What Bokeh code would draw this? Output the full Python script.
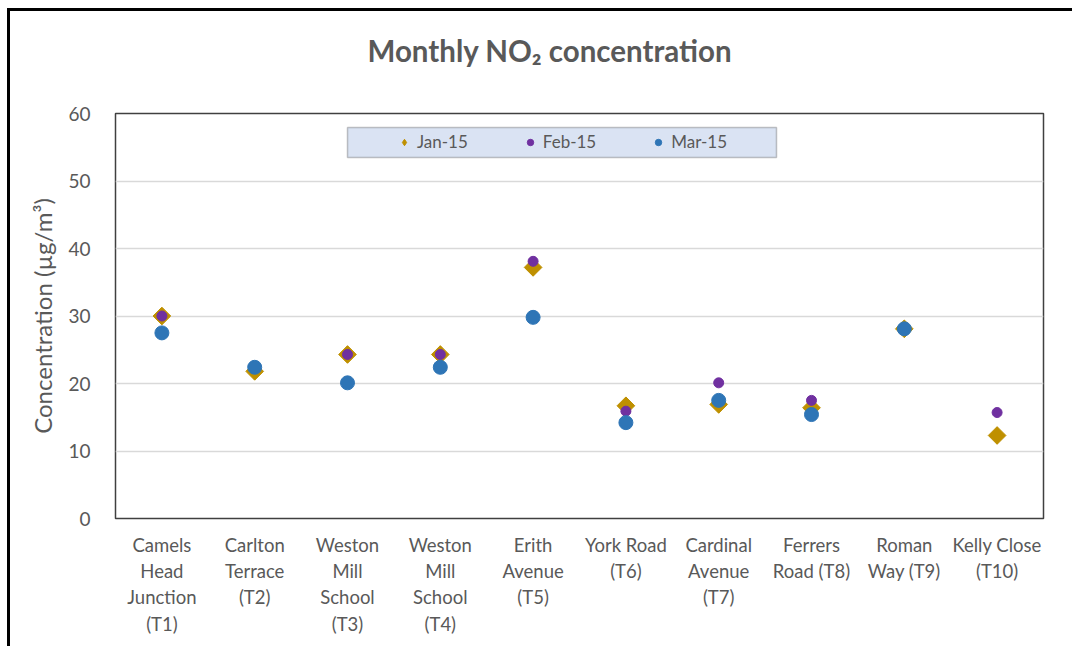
from bokeh.plotting import figure
from bokeh.models import FactorRange, Legend, LegendItem, BoxAnnotation, FixedTicker, Title
from bokeh.embed import file_html
from bokeh.resources import INLINE

site_labels = [
    "Camels\nHead\nJunction\n(T1)",
    "Carlton\nTerrace\n(T2)",
    "Weston\nMill\nSchool\n(T3)",
    "Weston\nMill\nSchool\n(T4)",
    "Erith\nAvenue\n(T5)",
    "York Road\n(T6)",
    "Cardinal\nAvenue\n(T7)",
    "Ferrers\nRoad (T8)",
    "Roman\nWay (T9)",
    "Kelly Close\n(T10)",
]
jan_15 = [30.0, 21.8, 24.3, 24.3, 37.2, 16.7, 16.9, 16.4, 28.1, 12.3]
feb_15 = [30.0, 22.3, 24.3, 24.3, 38.1, 15.9, 20.1, 17.5, 28.2, 15.7]
mar_sites = site_labels[:9]
mar_15 = [27.5, 22.4, 20.1, 22.4, 29.8, 14.2, 17.5, 15.4, 28.1]
y_ticks = [0, 10, 20, 30, 40, 50, 60]

FONT = "Lato"
GREY = "#595959"
C_JAN = "#BF9000"
C_FEB = "#7030A0"
C_MAR = "#2E75B6"

p = figure(
    width=1065, height=638,
    x_range=FactorRange(*site_labels, range_padding=0),
    y_range=(0, 60),
    output_backend="svg", toolbar_location=None,
    min_border_left=105, min_border_right=32, min_border_top=102, min_border_bottom=131,
    styles={"border-left": "3px solid black", "border-top": "3px solid black",
            "margin-left": "7px", "margin-top": "8px"},
)
p.title = None
p.outline_line_color = "#404040"
p.outline_line_width = 1.5
p.background_fill_color = "white"
p.border_fill_color = "white"

spacer = Title(text=" ", text_font_size="1px", standoff=24)
main_title = Title(text="Monthly NO₂ concentration", align="left", offset=252,
                   standoff=38, vertical_align="bottom",
                   text_font=FONT, text_font_style="bold",
                   text_font_size="29.5px", text_color=GREY)
p.add_layout(spacer, "above")
p.add_layout(main_title, "above")

p.xgrid.grid_line_color = None
p.ygrid.grid_line_color = "#D9D9D9"
p.ygrid.grid_line_width = 1.3

p.yaxis.ticker = FixedTicker(ticks=y_ticks)
p.yaxis.axis_line_color = None
p.yaxis.major_tick_line_color = None
p.yaxis.minor_tick_line_color = None
p.yaxis.major_label_text_font = FONT
p.yaxis.major_label_text_font_size = "19px"
p.yaxis.major_label_text_color = GREY
p.yaxis.major_label_standoff = 19
p.yaxis.axis_label = "Concentration (µg/m³)"
p.yaxis.axis_label_text_font = FONT
p.yaxis.axis_label_text_font_style = "normal"
p.yaxis.axis_label_text_font_size = "24px"
p.yaxis.axis_label_text_color = GREY
p.yaxis.axis_label_standoff = 8

p.xaxis.axis_line_color = None
p.xaxis.major_tick_line_color = None
p.xaxis.minor_tick_line_color = None
p.xaxis.major_label_text_font = FONT
p.xaxis.major_label_text_font_size = "18.5px"
p.xaxis.major_label_text_color = GREY
p.xaxis.major_label_text_line_height = 1.2
p.xaxis.major_label_standoff = 9

# legend proxy (narrow diamond hidden under the rotated squares)
r_jan_leg = p.scatter(site_labels, jan_15, marker="diamond", size=16,
                      fill_color=C_JAN, line_color=C_JAN)
p.scatter(site_labels, jan_15, marker="square", size=12.5, angle=0.785398,
          fill_color=C_JAN, line_color=C_JAN)
r_feb = p.scatter(site_labels, feb_15, marker="circle", size=10,
                  fill_color=C_FEB, line_color=C_FEB)
r_mar = p.scatter(mar_sites, mar_15, marker="circle", size=14,
                  fill_color=C_MAR, line_color=C_MAR)

box = BoxAnnotation(left=232, right=661, top=391, bottom=361,
                    left_units="screen", right_units="screen",
                    top_units="screen", bottom_units="screen",
                    fill_color="#DAE3F3", fill_alpha=1.0,
                    line_color="#404040", line_width=1.5, level="annotation")
p.add_layout(box)

legend = Legend(
    items=[LegendItem(label="Jan-15", renderers=[r_jan_leg]),
           LegendItem(label="Feb-15", renderers=[r_feb]),
           LegendItem(label="Mar-15", renderers=[r_mar])],
    orientation="horizontal", location=(281, 366),
    padding=0, spacing=54, margin=0,
    glyph_width=16, glyph_height=20, label_height=20, label_standoff=5,
    label_text_font=FONT, label_text_font_size="17px", label_text_color=GREY,
    background_fill_alpha=0, border_line_color=None,
)
p.add_layout(legend, "center")

open("out.html", "w").write(file_html(p, INLINE))
